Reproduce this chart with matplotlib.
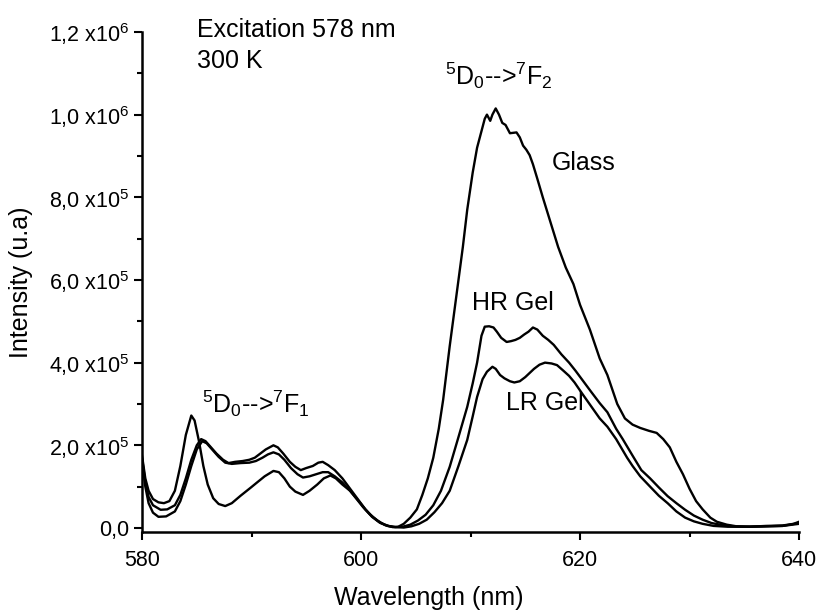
import matplotlib
matplotlib.use('Agg')
import matplotlib.pyplot as plt
from matplotlib.ticker import MultipleLocator, FixedLocator, FixedFormatter

# ---------------- data (intensity in units of 1e6) ----------------
glass_x = [580.0, 580.3, 580.6, 581.0, 581.5, 582.0, 582.5, 583.0, 583.5, 584.0,
           584.5, 584.8, 585.2, 585.6, 586.0, 586.5, 587.0, 587.6, 588.2, 589.0,
           589.9, 590.5, 591.2, 592.0, 592.5, 593.0, 593.5, 594.0, 594.7, 595.3,
           596.0, 596.6, 597.2, 597.7, 598.3, 599.0, 599.6, 600.2, 600.8, 601.5,
           602.2, 602.9, 603.4, 603.9, 604.5, 605.1, 605.6, 606.1, 606.6, 607.1,
           607.5, 608.1, 608.8, 609.3, 609.7, 610.2, 610.6, 611.0, 611.3, 611.5,
           611.8, 612.0, 612.3, 612.6, 612.9, 613.2, 613.6, 614.2, 614.5, 614.8,
           615.1, 615.4, 615.7, 616.1, 616.6, 617.3, 618.0, 618.7, 619.4, 620.0,
           620.9, 621.8, 622.5, 623.4, 624.1, 624.8, 625.5, 626.3, 627.0, 627.6,
           628.2, 628.8, 629.4, 630.0, 630.6, 631.2, 631.9, 632.5, 633.4, 634.3,
           635.5, 637.0, 638.5, 639.5, 640.0]
glass_y = [0.175, 0.12, 0.09, 0.07, 0.062, 0.06, 0.065, 0.09, 0.15, 0.225,
           0.272, 0.26, 0.21, 0.15, 0.105, 0.072, 0.058, 0.053, 0.06, 0.078,
           0.097, 0.11, 0.125, 0.138, 0.135, 0.12, 0.10, 0.088, 0.08, 0.09,
           0.105, 0.12, 0.127, 0.12, 0.105, 0.09, 0.07, 0.05, 0.033, 0.018,
           0.007, 0.002, 0.003, 0.01, 0.025, 0.045, 0.08, 0.12, 0.17, 0.24,
           0.31, 0.44, 0.58, 0.68, 0.77, 0.86, 0.92, 0.96, 0.99, 1.0,
           0.985, 1.0, 1.015, 1.0, 0.98, 0.975, 0.955, 0.957, 0.945, 0.925,
           0.915, 0.902, 0.88, 0.845, 0.80, 0.74, 0.68, 0.63, 0.59, 0.54,
           0.48, 0.41, 0.37, 0.30, 0.265, 0.25, 0.242, 0.235, 0.23, 0.215,
           0.195, 0.16, 0.13, 0.095, 0.065, 0.045, 0.025, 0.015, 0.008, 0.004,
           0.003, 0.005, 0.006, 0.01, 0.015]

hr_x = [580.0, 580.3, 580.6, 581.0, 581.7, 582.3, 583.0, 583.5, 584.0, 584.5,
        585.0, 585.4, 585.8, 586.3, 586.8, 587.4, 587.9, 588.5, 589.2, 589.8,
        590.3, 590.8, 591.3, 592.0, 592.4, 592.9, 593.5, 594.0, 594.5, 595.0,
        595.6, 596.1, 596.5, 597.0, 597.6, 598.3, 599.0, 599.7, 600.4, 601.0,
        601.7, 602.4, 603.1, 603.8, 604.5, 605.2, 605.9, 606.6, 607.3, 608.1,
        608.9, 609.7, 610.2, 610.6, 611.0, 611.3, 611.7, 612.1, 612.4, 612.8,
        613.3, 613.7, 614.1, 614.5, 614.9, 615.3, 615.7, 616.1, 616.6, 617.1,
        617.6, 618.3, 619.0, 619.6, 620.3, 621.0, 621.8, 622.5, 623.3, 623.9,
        624.8, 625.6, 626.4, 627.2, 628.0, 628.8, 629.6, 630.4, 631.2, 632.0,
        633.0, 634.0, 635.5, 637.0, 638.5, 640.0]
hr_y = [0.17, 0.11, 0.075, 0.055, 0.044, 0.045, 0.055, 0.08, 0.12, 0.165,
        0.20, 0.215, 0.21, 0.195, 0.18, 0.165, 0.157, 0.16, 0.162, 0.165,
        0.17, 0.18, 0.19, 0.20, 0.195, 0.18, 0.16, 0.148, 0.14, 0.145,
        0.15, 0.158, 0.16, 0.152, 0.14, 0.12, 0.095, 0.07, 0.045, 0.027,
        0.013, 0.005, 0.002, 0.003, 0.008, 0.018, 0.032, 0.055, 0.09, 0.148,
        0.22, 0.293, 0.35, 0.40, 0.465, 0.487, 0.488, 0.485, 0.475, 0.46,
        0.45, 0.452, 0.455, 0.46, 0.468, 0.475, 0.485, 0.48, 0.465, 0.455,
        0.443, 0.42, 0.40, 0.38, 0.355, 0.33, 0.302, 0.28, 0.24, 0.215,
        0.175, 0.14, 0.12, 0.098, 0.077, 0.06, 0.044, 0.03, 0.02, 0.012,
        0.007, 0.004, 0.003, 0.004, 0.005, 0.01]

lr_x = [580.0, 580.3, 580.6, 581.0, 581.5, 582.2, 583.0, 583.5, 584.0, 584.5,
        585.0, 585.5, 585.9, 586.4, 587.0, 587.6, 588.2, 589.0, 589.8, 590.4,
        591.0, 591.5, 592.0, 592.5, 593.0, 593.6, 594.2, 594.7, 595.3, 595.9,
        596.5, 597.0, 597.6, 598.3, 599.0, 599.7, 600.4, 601.1, 601.8, 602.5,
        603.2, 603.9, 604.6, 605.3, 606.0, 606.7, 607.4, 608.1, 608.9, 609.7,
        610.2, 610.6, 611.1, 611.5, 612.0, 612.3, 612.7, 613.1, 613.6, 614.0,
        614.5, 615.0, 615.4, 615.8, 616.3, 616.8, 617.4, 617.9, 618.5, 619.0,
        619.5, 620.2, 621.0, 621.8, 622.5, 623.3, 624.3, 624.8, 625.5, 626.4,
        627.2, 628.0, 628.8, 629.6, 630.4, 631.2, 632.2, 633.5, 635.0, 637.0,
        638.5, 640.0]
lr_y = [0.165, 0.10, 0.06, 0.037, 0.027, 0.028, 0.04, 0.065, 0.105, 0.15,
        0.19, 0.21, 0.205, 0.19, 0.172, 0.158, 0.155, 0.157, 0.158, 0.162,
        0.17, 0.178, 0.183, 0.178, 0.165, 0.145, 0.13, 0.122, 0.125, 0.13,
        0.135, 0.135, 0.125, 0.11, 0.09, 0.068, 0.045, 0.026, 0.012, 0.005,
        0.002, 0.001, 0.004, 0.01, 0.02, 0.038, 0.06, 0.09, 0.15, 0.213,
        0.27, 0.317, 0.36, 0.378, 0.39, 0.385, 0.37, 0.362, 0.355, 0.352,
        0.355, 0.365, 0.375, 0.385, 0.395, 0.40, 0.398, 0.394, 0.38, 0.368,
        0.352, 0.325, 0.295, 0.265, 0.245, 0.215, 0.17, 0.15, 0.125, 0.10,
        0.078, 0.06, 0.04, 0.025, 0.016, 0.01, 0.005, 0.003, 0.003, 0.004,
        0.005, 0.012]

y_ticks = [0.0, 0.2, 0.4, 0.6, 0.8, 1.0, 1.2]
y_tick_labels = ['0,0', '2,0 x10$^5$', '4,0 x10$^5$', '6,0 x10$^5$',
                 '8,0 x10$^5$', '1,0 x10$^6$', '1,2 x10$^6$']
x_ticks = [580, 600, 620, 640]

# ---------------- style ----------------
plt.rcParams['font.family'] = ['Liberation Sans', 'DejaVu Sans']
plt.rcParams['mathtext.fontset'] = 'custom'
plt.rcParams['mathtext.rm'] = 'Liberation Sans'
plt.rcParams['mathtext.it'] = 'Liberation Sans:italic'
plt.rcParams['mathtext.bf'] = 'Liberation Sans:bold'
plt.rcParams['mathtext.sf'] = 'Liberation Sans'

fig = plt.figure(figsize=(8.33, 6.10), dpi=100)
ax = fig.add_axes([0.1705, 0.1279, 0.7887, 0.8197])

lw = 1.7
ax.plot(glass_x, [v * 1e6 for v in glass_y], color='black', lw=lw)
ax.plot(hr_x, [v * 1e6 for v in hr_y], color='black', lw=lw)
ax.plot(lr_x, [v * 1e6 for v in lr_y], color='black', lw=lw)

ax.set_xlim(580, 640)
ax.set_ylim(-0.0097e6, 1.2e6)

for s in ['top', 'right']:
    ax.spines[s].set_visible(False)
for s in ['left', 'bottom']:
    ax.spines[s].set_linewidth(1.8)

ax.xaxis.set_major_locator(FixedLocator(x_ticks))
ax.xaxis.set_minor_locator(MultipleLocator(10))
ax.yaxis.set_major_locator(FixedLocator([v * 1e6 for v in y_ticks]))
ax.yaxis.set_major_formatter(FixedFormatter(y_tick_labels))
ax.yaxis.set_minor_locator(MultipleLocator(0.1e6))

ax.tick_params(axis='both', which='major', direction='out', length=6, width=1.5,
               labelsize=15.5)
ax.tick_params(axis='both', which='minor', direction='out', length=3.5, width=1.5)
ax.tick_params(axis='x', which='major', pad=7)
ax.tick_params(axis='y', which='major', pad=3)

ax.set_xlabel('Wavelength (nm)', fontsize=18)
ax.set_ylabel('Intensity (u.a)', fontsize=18)
ax.xaxis.set_label_coords(0.437, -0.108)
ax.yaxis.set_label_coords(-0.166, 0.5)

fs = 18
ax.text(585.0, 1.188e6, 'Excitation 578 nm', fontsize=fs, va='baseline', ha='left')
ax.text(585.0, 1.113e6, '300 K', fontsize=fs, va='baseline', ha='left')
ax.text(607.7, 1.072e6, r'$^5$D$_0$-->$^7$F$_2$', fontsize=fs, va='baseline', ha='left')
ax.text(585.5, 0.278e6, r'$^5$D$_0$-->$^7$F$_1$', fontsize=fs, va='baseline', ha='left')
ax.text(617.4, 0.883e6, 'Glass', fontsize=fs, va='center', ha='left')
ax.text(610.1, 0.544e6, 'HR Gel', fontsize=fs, va='center', ha='left')
ax.text(613.2, 0.302e6, 'LR Gel', fontsize=fs, va='center', ha='left')

fig.savefig('out.png', dpi=100, facecolor='white')
